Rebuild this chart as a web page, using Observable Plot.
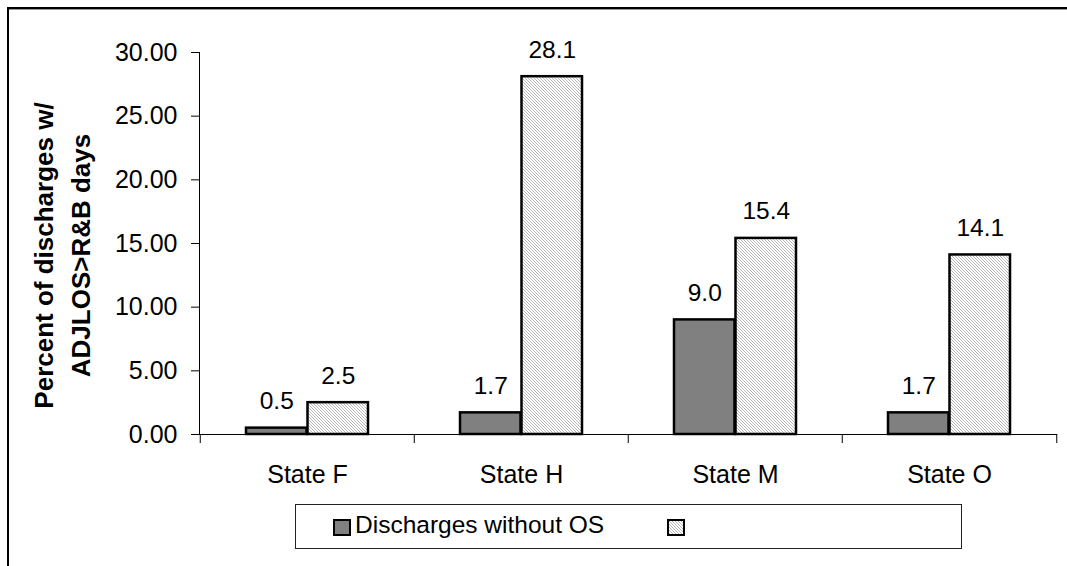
<!DOCTYPE html>
<html>
<head>
<meta charset="utf-8">
<script src="https://cdn.jsdelivr.net/npm/d3@7"></script>
<script src="https://cdn.jsdelivr.net/npm/@observablehq/plot@0.6"></script>
<style>
  html, body { margin: 0; padding: 0; background: #fff; }
  body { width: 1067px; height: 566px; position: relative; overflow: hidden; font-family: "Liberation Sans", Arial, sans-serif; }
  #frame { position: absolute; left: 7px; top: 7px; width: 1200px; height: 700px; border-top: 2px solid #000; border-left: 2px solid #000; box-shadow: inset 0 1px 0 #999; }
  #chart { position: absolute; left: 0; top: 0; }
  #legend { position: absolute; left: 295px; top: 504px; width: 667px; height: 45px; border: 1px solid #222; box-sizing: border-box; background: #fff; font-size: 24.5px; color: #000; }
  .sw { position: absolute; top: 14px; width: 14px; height: 13px; border: 2px solid #000; }
  .lab { position: absolute; top: 6px; line-height: 28px; white-space: nowrap; }
</style>
</head>
<body>
<div id="frame"></div>
<div id="chart"></div>
<div id="legend"></div>
<script>
const states = ["State F", "State H", "State M", "State O"];
const seriesNames = ["Discharges without OS", ""];
const withoutOS = [0.5, 1.7, 9.0, 1.7];
const withOS = [2.5, 28.1, 15.4, 14.1];
const yTicks = [0, 5, 10, 15, 20, 25, 30];
const yTitle = "Percent of discharges w/\nADJLOS>R&B days";

const dark = states.map((s, i) => ({state: s, value: withoutOS[i]}));
const light = states.map((s, i) => ({state: s, value: withOS[i]}));

const hatchDef = (id) => '<pattern id="' + id + '" patternUnits="userSpaceOnUse" width="3" height="3">' +
  '<rect width="3" height="3" fill="#ffffff"/>' +
  '<path d="M-1,-1 L4,4 M-1,2 L1,4 M2,-1 L4,1" stroke="#a6a6a6" stroke-width="0.8"/></pattern>';

const chart = Plot.plot({
  width: 1067,
  height: 566,
  marginLeft: 199,
  marginRight: 10,
  marginTop: 52,
  marginBottom: 132,
  style: {fontSize: "25px", fontFamily: "'Liberation Sans', Arial, sans-serif", color: "#000", background: "transparent", overflow: "visible"},
  x: {domain: states, padding: 0, tickSize: 0, tickPadding: 31, label: null},
  y: {domain: [0, 30], ticks: yTicks, tickFormat: d3.format(".2f"), tickSize: 8, tickPadding: 14, label: null, line: true},
  marks: [
    Plot.barY(dark, {x: "state", y: "value", fill: "#808080", stroke: "#000", strokeWidth: 2.5, insetLeft: 46, insetRight: 107.5}),
    Plot.barY(light, {x: "state", y: "value", fill: "url(#hatch)", stroke: "#000", strokeWidth: 2.5, insetLeft: 107.5, insetRight: 46}),
    Plot.ruleY([0], {stroke: "#000", strokeWidth: 1}),
    Plot.ruleX(states, {x: d => d, dx: -107.25, y1: 0, y2: 0, insetBottom: -9, stroke: "#000", strokeWidth: 1}),
    Plot.ruleX(states.slice(-1), {x: d => d, dx: 107.25, y1: 0, y2: 0, insetBottom: -9, stroke: "#000", strokeWidth: 1}),
    Plot.text(dark, {x: "state", y: "value", text: d => d.value.toFixed(1), dx: -30.75, dy: -19, lineAnchor: "bottom", fontSize: 24.5, fill: "#000"}),
    Plot.text(light, {x: "state", y: "value", text: d => d.value.toFixed(1), dx: 30.75, dy: -19, lineAnchor: "bottom", fontSize: 24.5, fill: "#000"}),
    Plot.text([yTitle], {frameAnchor: "left", text: d => d, rotate: -90, dx: -140, dy: 12, fontSize: 26, fontWeight: "bold", lineHeight: 1.45, textAnchor: "middle", fill: "#000"})
  ]
});

const svg = chart.tagName.toLowerCase() === "svg" ? chart : chart.querySelector("svg");
const ns = "http://www.w3.org/2000/svg";
const defs = document.createElementNS(ns, "defs");
defs.innerHTML = hatchDef("hatch");
svg.insertBefore(defs, svg.firstChild);
document.getElementById("chart").appendChild(chart);

// legend
const legend = document.getElementById("legend");
const entries = [
  {name: seriesNames[0], left: 37, hatch: false},
  {name: seriesNames[1], left: 371, hatch: true}
];
legend.innerHTML = '<svg width="0" height="0" style="position:absolute"><defs>' + hatchDef("hatchL") + '</defs></svg>';
entries.forEach(e => {
  const sw = document.createElement("div");
  sw.className = "sw";
  sw.style.left = e.left + "px";
  if (e.hatch) {
    sw.innerHTML = '<svg width="14" height="13" style="display:block"><rect width="14" height="13" fill="url(#hatchL)"/></svg>';
  } else {
    sw.style.background = "#808080";
  }
  legend.appendChild(sw);
  const lab = document.createElement("div");
  lab.className = "lab";
  lab.style.left = (e.left + 22) + "px";
  lab.textContent = e.name;
  legend.appendChild(lab);
});
</script>
</body>
</html>
